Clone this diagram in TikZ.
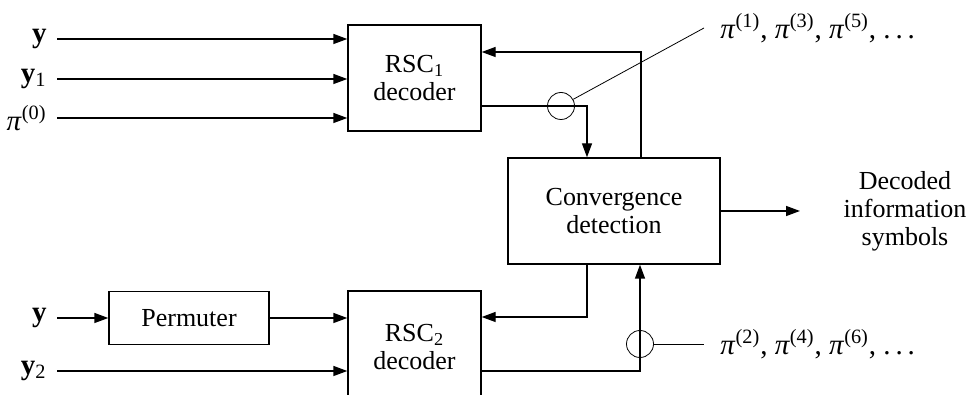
\documentclass[tikz,border=0pt]{standalone}
\usepackage{fontspec}
\setmainfont{Liberation Serif}
\usetikzlibrary{positioning,arrows.meta}

\newcommand{\piit}[1]{\textit{π}\textsuperscript{(#1)}}

\begin{document}
\begin{tikzpicture}[x=0.5pt, y=-0.5pt,
    font=\fontsize{13}{14}\selectfont,
    >={Triangle[length=7pt,width=5pt]},
    block/.style={draw, line width=0.7pt, align=center, inner sep=0pt},
    sig/.style={line width=0.7pt},
    tap/.style={draw, circle, line width=0.4pt, minimum size=13.5pt, inner sep=0pt},
    lead/.style={line width=0.4pt},
    sym/.style={font=\fontsize{14.5}{16}\selectfont},
    inlabel/.style={sym, anchor=east, inner sep=5pt}]
    \useasboundingbox (0,0) rectangle (971,395);
    % blocks
    \node [block, minimum width=66.5pt, minimum height=53pt] (dec1) at (414.5,78) {RSC\textsubscript{1}\\decoder};
    \node [block, minimum width=66.5pt, minimum height=56pt] (dec2) at (414.5,347) {RSC\textsubscript{2}\\decoder};
    \node [block, minimum width=106pt, minimum height=53pt] (conv) at (614,211) {Convergence\\detection};
    \node [block, minimum width=80pt, minimum height=26.5pt] (perm) at (189,318) {Permuter};
    % inputs
    \node [inlabel] (ya) at (57,39) {\textbf{y}};
    \node [inlabel] (y1) at (57,79) {\textbf{y}\textsubscript{1}};
    \node [inlabel] (p0) at (57,118) {\piit{0}};
    \node [inlabel] (yb) at (57,318) {\textbf{y}};
    \node [inlabel] (y2) at (57,371) {\textbf{y}\textsubscript{2}};
    \draw [sig, ->] (ya.east) -- (ya.east -| dec1.west);
    \draw [sig, ->] (y1.east) -- (y1.east -| dec1.west);
    \draw [sig, ->] (p0.east) -- (p0.east -| dec1.west);
    \draw [sig, ->] (yb.east) -- (yb.east -| perm.west);
    \draw [sig, ->] (perm.east) -- (perm.east -| dec2.west);
    \draw [sig, ->] (y2.east) -- (y2.east -| dec2.west);
    % loops through the convergence block
    \coordinate (fb1) at (641,52);
    \coordinate (o1) at (587,106);
    \coordinate (fb2) at (587,317);
    \coordinate (o2) at (640,371);
    \draw [sig, ->] (conv.north -| fb1) -- (fb1) -- (fb1 -| dec1.east);
    \draw [sig, ->] (o1 -| dec1.east) -- (o1) -- (o1 |- conv.north);
    \draw [sig, ->] (conv.south -| fb2) -- (fb2) -- (fb2 -| dec2.east);
    \draw [sig, ->] (o2 -| dec2.east) -- (o2) -- (o2 |- conv.south);
    % taps
    \node [tap] (tap1) at (561,106) {};
    \node [tap] (tap2) at (640,344) {};
    \node [sym, anchor=west, inner sep=8pt] (odd) at (704,28) {\piit{1}, \piit{3}, \piit{5}, .\,.\,.};
    \node [sym, anchor=west, inner sep=8pt] (even) at (704,344) {\piit{2}, \piit{4}, \piit{6}, .\,.\,.};
    \draw [lead] (tap1) -- (odd.west);
    \draw [lead] (tap2) -- (even.west);
    % output
    \coordinate (outend) at (800,211);
    \draw [sig, ->] (conv.east) -- (outend);
    \node [align=center] (outlbl) at (905,211) {Decoded\\information\\symbols};
\end{tikzpicture}
\end{document}
